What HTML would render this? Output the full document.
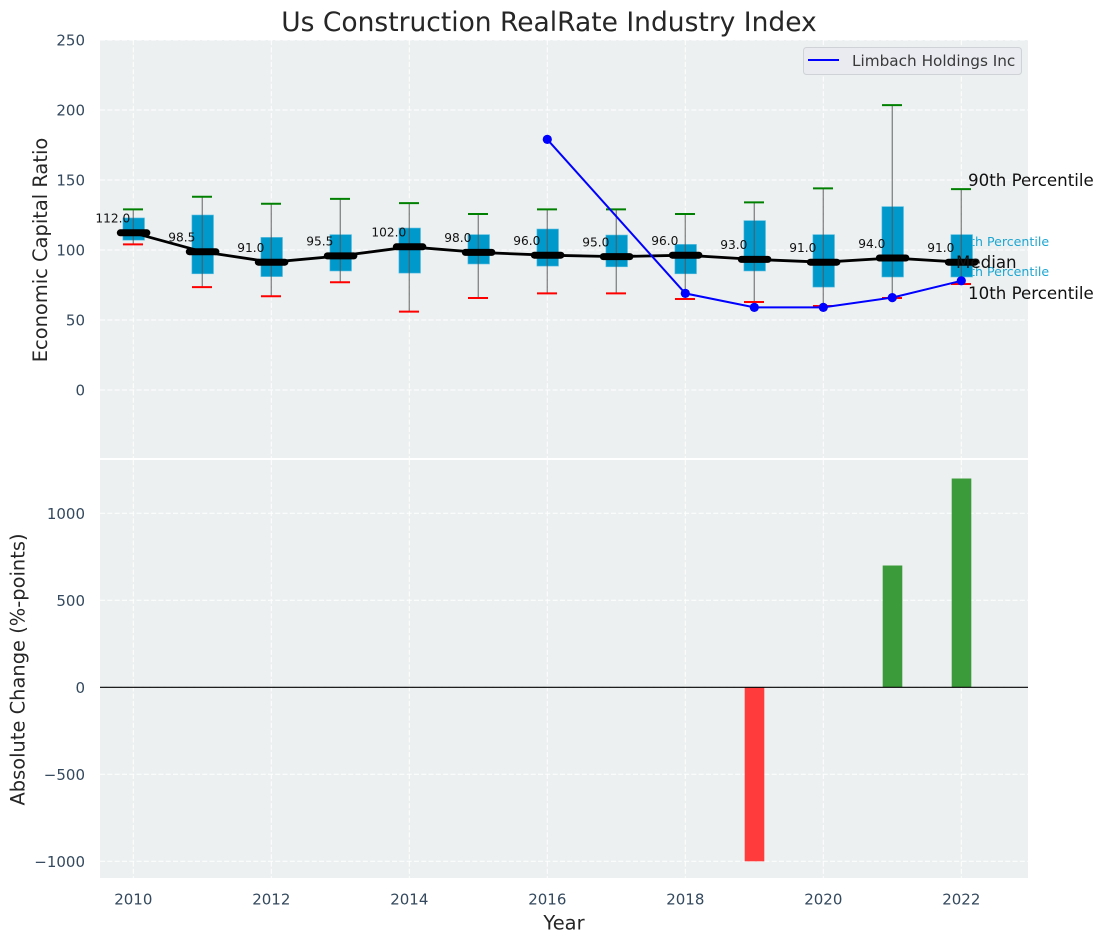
<!DOCTYPE html>
<html lang="en">
<head>
<meta charset="utf-8">
<title>Us Construction RealRate Industry Index</title>
<style>
html,body{margin:0;padding:0;background:#fff;}
svg{display:block;font-family:"DejaVu Sans","Liberation Sans",sans-serif;}
</style>
</head>
<body>
<svg id="chart" xmlns="http://www.w3.org/2000/svg" width="1103" height="942" viewBox="0 0 1103 942">
  <rect x="0" y="0" width="1103" height="942" fill="#ffffff"/>
  <rect x="100" y="40" width="928" height="418" fill="#ecf0f1"/>
  <rect x="100" y="460" width="928" height="418" fill="#ecf0f1"/>
  <g id="grid"></g>
  <g id="percentile-under">
    <text x="954" y="246" font-size="12.6" fill="#1ea6d1">75th Percentile</text>
    <text x="954" y="276" font-size="12.6" fill="#1ea6d1">25th Percentile</text>
  </g>
  <g id="boxes"></g>
  <g id="medians"></g>
  <g id="company"></g>
  <g id="bars"></g>
  <g id="ticks"></g>
  <text x="549" y="31" text-anchor="middle" font-size="26.5" fill="#262626">Us Construction RealRate Industry Index</text>
  <text transform="translate(47,250) rotate(-90)" text-anchor="middle" font-size="19.45" fill="#262626">Economic Capital Ratio</text>
  <text transform="translate(24.5,669.5) rotate(-90)" text-anchor="middle" font-size="19.45" fill="#262626">Absolute Change (%-points)</text>
  <text x="564" y="929.5" text-anchor="middle" font-size="19.45" fill="#262626">Year</text>
  <g>
    <rect x="803.5" y="47.5" width="218" height="27" rx="3" fill="#e9ebf0" stroke="#cfd2d6" stroke-width="1"/>
    <line x1="808" y1="60" x2="839" y2="60" stroke="#0000ff" stroke-width="2"/>
    <text x="852" y="66" font-size="15.28" fill="#3a3a3a">Limbach Holdings Inc</text>
  </g>
  <g>
    <text x="968" y="186" font-size="16.67" fill="#111111">90th Percentile</text>
    <text x="956" y="268" font-size="16.67" fill="#111111">Median</text>
    <text x="968" y="299" font-size="16.67" fill="#111111">10th Percentile</text>
  </g>
</svg>
<script>
const years = [2010,2011,2012,2013,2014,2015,2016,2017,2018,2019,2020,2021,2022];
const p90 = [129,138,133,136.5,133.5,125.7,129,129,125.7,134,144,203.5,143.5];
const p75 = [122.9,125,109,111,115.7,111,115,110.7,104,121,111,131,111];
const median = [112,98.5,91,95.5,102,98,96,95,96,93,91,94,91];
const p25 = [107,83,81,85,83.5,90,88.5,88,83,85,73.5,80.7,80.7];
const p10 = [104,73.5,67,77,56,65.7,69,69,65,62.9,60,65.7,75.7];
const companyYears = [2016,2018,2019,2020,2021,2022];
const companyValues = [179,69,59,59,66,78];
const changeYears = [2019,2021,2022];
const changeValues = [-1000,700,1200];
const xTicks = [2010,2012,2014,2016,2018,2020,2022];
const topTicks = [0,50,100,150,200,250];
const bottomTicks = [-1000,-500,0,500,1000];

const NS = 'http://www.w3.org/2000/svg';
const X = v => 133.3 + (v - 2010) * 69;
const YT = v => 390 - v * 1.4;
const YB = v => 687.3 - v * 0.174;
function mk(tag, parent, attrs){
  const e = document.createElementNS(NS, tag);
  for (const k in attrs) e.setAttribute(k, attrs[k]);
  parent.appendChild(e);
  return e;
}
const grid = document.getElementById('grid');
const ticksG = document.getElementById('ticks');
const boxes = document.getElementById('boxes');
const medians = document.getElementById('medians');
const company = document.getElementById('company');
const bars = document.getElementById('bars');
const gridStyle = {stroke:'#ffffff','stroke-width':1,'stroke-dasharray':'5.1 2.2',opacity:0.95};

xTicks.forEach(t => {
  [[40,458],[460,878]].forEach(r => {
    const g = mk('line', grid, {x1:X(t),x2:X(t),y1:r[0],y2:r[1],...gridStyle});
    
    
  });
  const l = mk('text', ticksG, {x:X(t),y:904.5,'text-anchor':'middle','font-size':15,fill:'#34495e'});
  
  
  l.textContent = t;
});
topTicks.forEach(t => {
  const g = mk('line', grid, {x1:100,x2:1028,y1:YT(t),y2:YT(t),...gridStyle});
  
  
  const l = mk('text', ticksG, {x:85,y:YT(t)+5.5,'text-anchor':'end','font-size':15,fill:'#34495e'});
  
  
  l.textContent = t;
});
bottomTicks.forEach(t => {
  const g = mk('line', grid, {x1:100,x2:1028,y1:YB(t),y2:YB(t),...gridStyle});
  
  
  const l = mk('text', ticksG, {x:85,y:YB(t)+5.5,'text-anchor':'end','font-size':15,fill:'#34495e'});
  
  
  l.textContent = String(t).replace('-', '\u2212');
});

years.forEach((yr, i) => {
  const x = X(yr);
  const b = mk('rect', boxes, {x:x-10.4,y:YT(p75[i]),width:21.6,height:YT(p25[i])-YT(p75[i]),fill:'#0099cc',stroke:'#5fbfdf','stroke-width':0.6});
  
  
  const w = mk('line', boxes, {x1:x,x2:x,y1:YT(p90[i]),y2:YT(p10[i]),stroke:'#555555','stroke-width':1.4,opacity:0.65});
  
  
  const hi = mk('line', boxes, {x1:x-10.3,x2:x+9.7,y1:YT(p90[i]),y2:YT(p90[i]),stroke:'#008000','stroke-width':2});
  
  
  const lo = mk('line', boxes, {x1:x-10.3,x2:x+9.7,y1:YT(p10[i]),y2:YT(p10[i]),stroke:'#ff0000','stroke-width':2});
  
  
});

const medLine = mk('polyline', medians, {points:years.map((yr,i)=>X(yr)+','+(YT(median[i])-0.4)).join(' '),fill:'none',stroke:'#000000','stroke-width':2.8,'stroke-linejoin':'round'});


years.forEach((yr, i) => {
  const x = X(yr), y = YT(median[i]) - 0.4;
  const m = mk('line', medians, {x1:x-13,x2:x+13.6,y1:y,y2:y,stroke:'#000000','stroke-width':7,'stroke-linecap':'round'});
  
  
  const t = mk('text', medians, {x:x-20.5,y:y-10.2,'text-anchor':'middle','font-size':12.2,fill:'#111111'});
  
  
  t.textContent = median[i].toFixed(1);
});

const coLine = mk('polyline', company, {points:companyYears.map((yr,i)=>X(yr)+','+YT(companyValues[i])).join(' '),fill:'none',stroke:'#0000ff','stroke-width':2});


companyYears.forEach((yr, i) => {
  const c = mk('circle', company, {cx:X(yr),cy:YT(companyValues[i]),r:4.6,fill:'#0000ff'});
  
  
});

changeYears.forEach((yr, i) => {
  const v = changeValues[i];
  const top = Math.min(YB(v), YB(0));
  const r = mk('rect', bars, {x:X(yr)-9.6,y:top,width:19.6,height:Math.abs(YB(v)-YB(0)),fill:v<0?'#ff3b3c':'#3b9b3b'});
  
  
});
const zero = mk('line', bars, {x1:100,x2:1028,y1:YB(0),y2:YB(0),stroke:'#000000','stroke-width':1.1});


</script>
</body>
</html>
